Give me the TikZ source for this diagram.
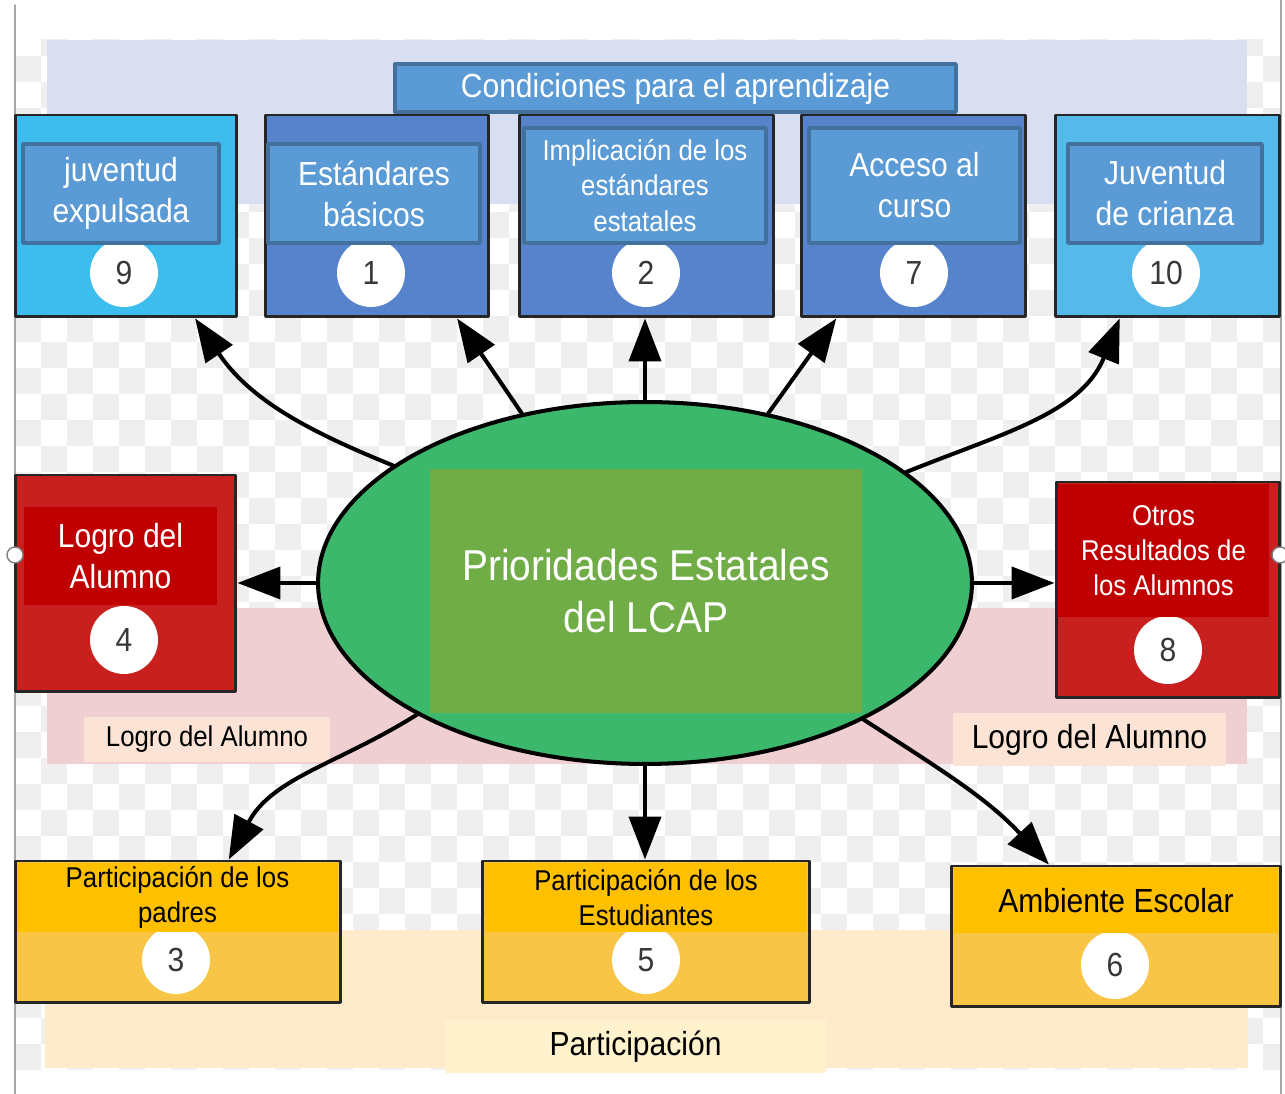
\documentclass[tikz,border=0pt]{standalone}
\usepackage{fontspec}
\setmainfont{Liberation Sans}[FakeStretch=0.9]
\usepackage{xcolor}
\usetikzlibrary{arrows.meta,shapes.geometric,positioning}

\definecolor{bandblue}{HTML}{D9DFF1}
\definecolor{bandpink}{HTML}{F0CFD3}
\definecolor{bandcream}{HTML}{FDEBCB}
\definecolor{checkgray}{HTML}{EFEFEF}
\definecolor{titleblue}{HTML}{5B9BD5}
\definecolor{titleedge}{HTML}{41719C}
\definecolor{cyanA}{HTML}{3DBCEE}
\definecolor{cyanB}{HTML}{55B9EA}
\definecolor{blueB}{HTML}{5683CC}
\definecolor{redA}{HTML}{C8201E}
\definecolor{redB}{HTML}{C00000}
\definecolor{yelTop}{HTML}{FFC000}
\definecolor{yelLow}{HTML}{F9C547}
\definecolor{ellgreen}{HTML}{3CB86C}
\definecolor{rectgreen}{HTML}{70AD47}
\definecolor{peach}{HTML}{FBE4D5}
\definecolor{partlab}{HTML}{FFF2CC}
\definecolor{numgray}{HTML}{383838}

\newcommand{\lblfont}{\fontsize{19}{23.3}\selectfont}
\newcommand{\smlfont}{\fontsize{16.3}{20}\selectfont}
\newcommand{\ctrfont}{\fontsize{24.6}{30}\selectfont}

\tikzset{
  box/.style={rectangle,draw=black!85,line width=1.7pt,inner sep=0pt},
  innerbox/.style={rectangle,draw=titleedge,line width=2pt,fill=titleblue,text=white,
    inner sep=0pt,align=center,font=\lblfont},
  redin/.style={rectangle,fill=redB,text=white,inner sep=0pt,align=center,font=\lblfont},
  yelin/.style={rectangle,fill=yelTop,text=black,inner sep=0pt,align=center,font=\smlfont},
  num/.style={circle,fill=white,minimum size=1.36cm,inner sep=0pt,text=numgray,
    font=\fontsize{19}{19}\selectfont},
  tag/.style={rectangle,inner sep=0pt,text=black},
  handle/.style={circle,draw=gray,fill=white,line width=0.8pt,minimum size=0.32cm,inner sep=0pt},
  arr/.style={-{Triangle[length=0.86cm,width=0.64cm]},line width=2.3pt}
}

\begin{document}
\begin{tikzpicture}[line cap=round,line join=round,x=0.02cm,y=0.02cm]
  \useasboundingbox (0,0) rectangle (1285,1094);
  \fill[white] (0,0) rectangle (1285,1094);

  % transparent background checker
  \begin{scope}
    \clip (15,24) rectangle (1280,1054);
    \foreach \i in {0,2,...,48}
      \foreach \j in {0,2,...,40} {
        \fill[checkgray] (15+\i*26,24+\j*26) rectangle +(26,26);
        \fill[checkgray] (41+\i*26,50+\j*26) rectangle +(26,26);
      }
  \end{scope}

  % bands
  \fill[bandblue] (47,890) rectangle (1247,1054);
  \fill[bandpink] (47,330) rectangle (1247,486);
  \fill[bandcream] (45,26) rectangle (1248,164);

  \draw[gray!70,line width=1pt] (15,0) -- (15,1089);
  \draw[gray!70,line width=1pt] (1281,0) -- (1281,1094);

  % condiciones para el aprendizaje
  \node[rectangle,draw=titleedge,line width=2pt,fill=titleblue,text=white,font=\lblfont,
    minimum width=11.22cm,minimum height=0.96cm,text depth=0.12cm] (cond) at (675.5,1006) {Condiciones para el aprendizaje};

  \node[box,fill=cyanA,minimum width=4.44cm,minimum height=4.04cm] (b9) at (126,878) {};
  \node[box,fill=blueB,minimum width=4.48cm,minimum height=4.04cm] (b1) at (377,878) {};
  \node[box,fill=blueB,minimum width=5.10cm,minimum height=4.04cm] (b2) at (646.5,878) {};
  \node[box,fill=blueB,minimum width=4.50cm,minimum height=4.04cm] (b7) at (913.5,878) {};
  \node[box,fill=cyanB,minimum width=4.50cm,minimum height=4.04cm] (b10) at (1167.5,878) {};

  \node[num] (n9) at (124,821) {9};
  \node[num] (n1) at (371,821) {1};
  \node[num] (n2) at (646,821) {2};
  \node[num] (n7) at (914,821) {7};
  \node[num] (n10) at (1166,821) {10};

  \node[innerbox,minimum width=3.92cm,minimum height=1.98cm] (t9) at (121,900.5) {juventud\\expulsada};
  \node[innerbox,minimum width=4.24cm,minimum height=1.98cm] (t1) at (374,900.5) {Estándares\\básicos};
  \node[innerbox,minimum width=4.84cm,minimum height=2.30cm,font=\smlfont] (t2) at (645,908.5)
    {Implicación de los\\estándares\\estatales};
  \node[innerbox,minimum width=4.22cm,minimum height=2.30cm] (t7) at (914.5,908.5) {Acceso al\\curso};
  \node[innerbox,minimum width=3.88cm,minimum height=1.98cm] (t10) at (1165,900.5) {Juventud\\de crianza};

  % logro del alumno
  \node[box,fill=redA,minimum width=4.42cm,minimum height=4.34cm] (b4) at (125.5,510.5) {};
  \node[num] (n4) at (124,454) {4};
  \node[redin,minimum width=3.86cm,minimum height=1.96cm] (t4) at (120.5,538) {Logro del\\Alumno};
  \node[handle] (h4) at (15,539) {};

  \node[box,fill=redA,minimum width=4.48cm,minimum height=4.32cm] (b8) at (1168,504) {};
  \node[num] (n8) at (1168,444) {8};
  \node[redin,minimum width=4.22cm,minimum height=2.66cm,font=\smlfont] (t8) at (1163.5,543.5)
    {Otros\\Resultados de\\los Alumnos};
  \node[handle] (h8) at (1280,539) {};

  \node[tag,fill=peach,minimum width=4.92cm,minimum height=0.9cm,font=\smlfont] (lg1) at (207,354.5) {Logro del Alumno};
  \node[tag,fill=peach,minimum width=5.46cm,minimum height=1.06cm,font=\lblfont] (lg2) at (1089.5,354.5) {Logro del Alumno};

  % participacion
  \node[box,fill=yelLow,minimum width=6.52cm,minimum height=2.84cm] (b3) at (178,162) {};
  \node[num] (n3) at (176,134) {3};
  \node[yelin,minimum width=6.42cm,minimum height=1.38cm] (t3) at (177.5,196.5) {Participación de los\\padres};

  \node[box,fill=yelLow,minimum width=6.56cm,minimum height=2.84cm] (b5) at (646,162) {};
  \node[num] (n5) at (646,134) {5};
  \node[yelin,minimum width=6.46cm,minimum height=1.38cm] (t5) at (646,196.5) {Participación de los\\Estudiantes};

  \node[box,fill=yelLow,minimum width=6.60cm,minimum height=2.82cm] (b6) at (1116,157.5) {};
  \node[num] (n6) at (1115,129) {6};
  \node[yelin,minimum width=6.50cm,minimum height=1.30cm,font=\lblfont] (t6) at (1116,193.5) {Ambiente Escolar};

  \node[tag,fill=partlab,minimum width=7.62cm,minimum height=1.06cm,font=\lblfont] (part) at (635.5,47.5) {Participación};

  % centro
  \node[ellipse,draw=black,line width=2.3pt,fill=ellgreen,minimum width=13.08cm,
    minimum height=7.24cm,inner sep=0pt] (ell) at (645,511) {};
  \node[rectangle,fill=rectgreen,minimum width=8.64cm,minimum height=4.88cm,text=white,
    font=\ctrfont,align=center] (prio) at (646,503) {Prioridades Estatales\\del LCAP};

  % flechas
  \draw[arr] (ell.155) to[out=158,in=-56] (b9.-56);
  \draw[arr] (ell.126) -- (b1.-52);
  \draw[arr] (ell.north) -- (ell.north |- b2.south);
  \draw[arr] (ell.54) -- (b7.233);
  \draw[arr] (ell.23) to[out=22,in=-112] (b10.245);
  \draw[arr] (ell.west) -- (ell.west -| b4.east);
  \draw[arr] (ell.east) -- (ell.east -| b8.west);
  \draw[arr] (ell.210) to[out=212,in=62] (b3.55);
  \draw[arr] (ell.south) -- (ell.south |- b5.north);
  \draw[arr] (ell.328) to[out=-33,in=133] (b6.133);
\end{tikzpicture}
\end{document}
